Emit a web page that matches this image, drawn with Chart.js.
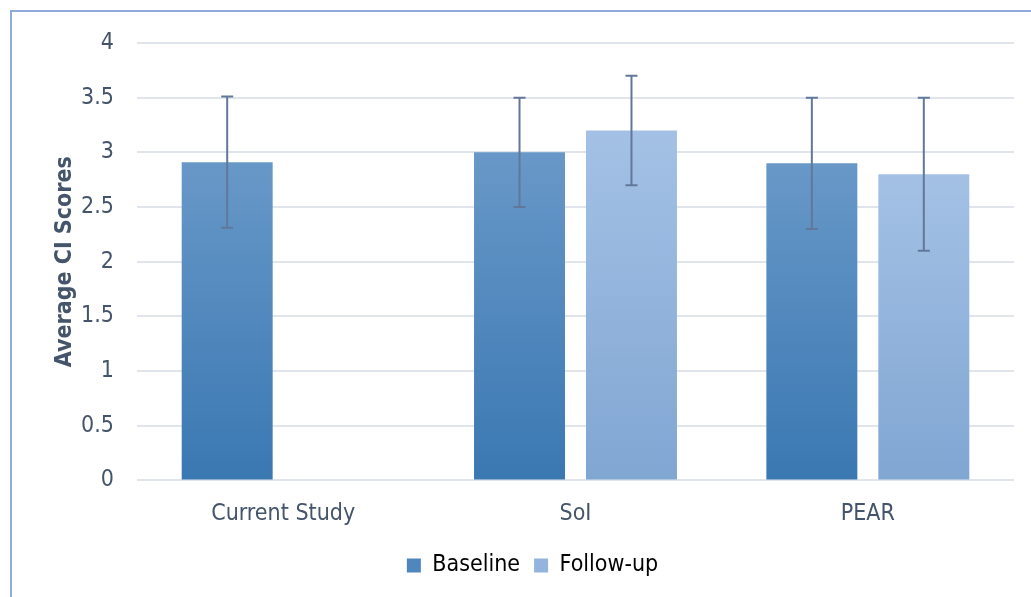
<!DOCTYPE html>
<html>
<head>
<meta charset="utf-8">
<script src="https://cdn.jsdelivr.net/npm/chart.js@4.4.1/dist/chart.umd.min.js"></script>
<style>
  html, body { margin: 0; padding: 0; background: #fff; }
  #wrap { position: relative; width: 1031px; height: 597px; overflow: hidden; }
  #frame { position: absolute; left: 10px; top: 10px; width: 1100px; height: 700px;
           border-left: 2px solid #8faadc; border-top: 2px solid #8faadc; }
  #myChart { position: absolute; left: 0; top: 0; }
</style>
</head>
<body>
<div id="wrap">
  <div id="frame"></div>
  <canvas id="myChart" width="1031" height="597"></canvas>
</div>
<script>
// valores
const categories = ['Current Study', 'SoI', 'PEAR'];
const baseline = [2.91, 3.0, 2.9];
const baselineErr = [0.6, 0.5, 0.6];
const followUp = [null, 3.2, 2.8];
const followUpErr = [null, 0.5, 0.7];
const yTicks = [0, 0.5, 1, 1.5, 2, 2.5, 3, 3.5, 4];

const FONT = "Tahoma, 'DejaVu Sans Condensed', 'DejaVu Sans', sans-serif";
const TEXT = '#44546a';

// gradiente por barra (claro em cima, escuro em baixo)
function barGradient(topColor, bottomColor) {
    return function (c) {
        const chart = c.chart;
        if (!chart.chartArea || c.raw == null) return bottomColor;
        const y = chart.scales.y;
        const top = y.getPixelForValue(c.raw);
        const bottom = y.getPixelForValue(0);
        const g = chart.ctx.createLinearGradient(0, top, 0, bottom);
        g.addColorStop(0, topColor);
        g.addColorStop(1, bottomColor);
        return g;
    };
}

// barras de erro desenhadas pela escala do grafico
const errorBars = {
    id: 'errorBars',
    afterDatasetsDraw(chart) {
        const ctx = chart.ctx;
        const y = chart.scales.y;
        chart.data.datasets.forEach((ds, di) => {
            const meta = chart.getDatasetMeta(di);
            ds.data.forEach((v, i) => {
                const e = ds.errors[i];
                if (v == null || e == null) return;
                const x = meta.data[i].x;
                const yHi = y.getPixelForValue(v + e);
                const yLo = y.getPixelForValue(v - e);
                ctx.save();
                ctx.strokeStyle = '#62789a';
                ctx.lineWidth = 2;
                ctx.beginPath();
                ctx.moveTo(x, yHi); ctx.lineTo(x, yLo);
                ctx.moveTo(x - 6, yHi); ctx.lineTo(x + 6, yHi);
                ctx.moveTo(x - 6, yLo); ctx.lineTo(x + 6, yLo);
                ctx.stroke();
                ctx.restore();
            });
        });
    }
};

const legendColors = ['#4f86bd', '#93b4dc'];

const ctx = document.getElementById('myChart').getContext('2d');
const myChart = new Chart(ctx, {
    type: 'bar',
    data: {
        labels: categories,
        datasets: [{
            label: 'Baseline',
            data: baseline,
            errors: baselineErr,
            backgroundColor: barGradient('#6898c8', '#3a78b2')
        }, {
            label: 'Follow-up',
            data: followUp,
            errors: followUpErr,
            backgroundColor: barGradient('#a4c1e5', '#80a6d2')
        }]
    },
    plugins: [errorBars],
    options: {
        responsive: false,
        animation: false,
        layout: { padding: { left: 51, right: 17, top: 43, bottom: 10 } },
        datasets: {
            bar: { categoryPercentage: 0.766, barPercentage: 0.8125 }
        },
        plugins: {
            tooltip: { enabled: false },
            legend: {
                position: 'bottom',
                labels: {
                    color: '#000',
                    font: { family: FONT, size: 23 },
                    boxWidth: 14,
                    boxHeight: 14,
                    padding: 14,
                    generateLabels(chart) {
                        return chart.data.datasets.map((ds, i) => ({
                            text: ds.label,
                            fillStyle: legendColors[i],
                            strokeStyle: legendColors[i],
                            lineWidth: 0,
                            datasetIndex: i,
                            fontColor: '#000'
                        }));
                    }
                }
            }
        },
        scales: {
            x: {
                grid: { display: false },
                border: { display: false },
                ticks: { color: TEXT, font: { family: FONT, size: 23 }, padding: 12 }
            },
            y: {
                min: 0,
                max: 4,
                afterBuildTicks(scale) {
                    scale.ticks = yTicks.map(v => ({ value: v }));
                },
                afterFit(scale) { scale.width = 86; },
                grid: { color: '#e0e4eb', lineWidth: 2, drawTicks: false },
                border: { display: false },
                ticks: {
                    color: TEXT,
                    font: { family: FONT, size: 23 },
                    padding: 23,
                    callback: v => String(v)
                },
                title: {
                    display: true,
                    text: 'Average CI Scores',
                    color: TEXT,
                    font: { family: FONT, size: 23, weight: 'bold', lineHeight: 1.2 },
                    padding: 0
                }
            }
        }
    }
});
</script>
</body>
</html>
